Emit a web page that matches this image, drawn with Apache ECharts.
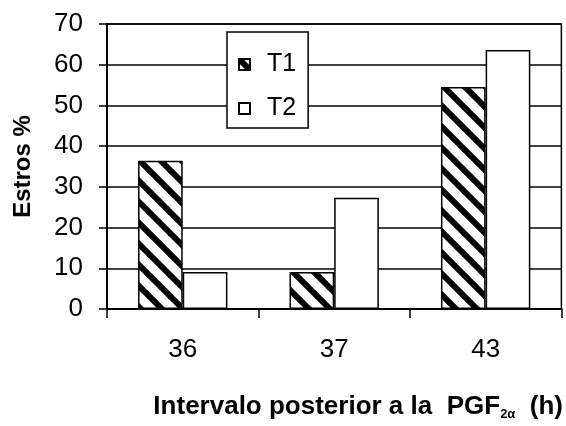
<!DOCTYPE html>
<html><head><meta charset="utf-8">
<script src="https://cdn.jsdelivr.net/npm/echarts@6/dist/echarts.min.js"></script>
<style>html,body{margin:0;padding:0;background:#fff}#c{width:566px;height:426px}</style>
</head><body><div id="c"></div>
<script>
const categories = ['36', '37', '43'];
const t1Values = [36.4, 9.1, 54.5];
const t2Values = [9.1, 27.3, 63.6];
const seriesNames = ['T1', 'T2'];
const yAxisName = 'Estros %';

function stripePattern() {
  const s = 21;
  const c = document.createElement('canvas');
  c.width = s; c.height = s;
  const g = c.getContext('2d');
  g.fillStyle = '#fff';
  g.fillRect(0, 0, s, s);
  g.strokeStyle = '#000';
  g.lineWidth = 6;
  for (let k = -1; k <= 1; k++) {
    g.beginPath();
    g.moveTo(k * s - 5, -5);
    g.lineTo(k * s + s + 5, s + 5);
    g.stroke();
  }
  return c;
}

const font = '"Liberation Sans", Arial, sans-serif';
const chart = echarts.init(document.getElementById('c'), null, { renderer: 'canvas' });
chart.setOption({
  animation: false,
  backgroundColor: '#fff',
  textStyle: { fontFamily: font, color: '#000' },
  grid: { left: 107, right: 1, top: 24, bottom: 110, show: true, borderColor: '#000', borderWidth: 1.5, backgroundColor: 'transparent' },
  legend: {
    orient: 'vertical', left: 227, top: 32,
    padding: [20, 12, 7, 11],
    itemGap: 19, itemWidth: 11, itemHeight: 11,
    backgroundColor: '#fff', borderColor: '#000', borderWidth: 1.5, borderRadius: 0,
    textStyle: { fontSize: 25, fontFamily: font, color: '#000', padding: [0, 0, 0, 12] },
    data: seriesNames.map(n => ({ name: n, icon: 'rect' }))
  },
  xAxis: {
    type: 'category', data: categories,
    axisLine: { lineStyle: { color: '#000', width: 2 } },
    axisTick: { show: true, length: 9, lineStyle: { color: '#000', width: 1.5 } },
    axisLabel: { fontSize: 26, color: '#000', margin: 28, fontFamily: font },
    name: '{m|Intervalo posterior a la  PGF}{s|2α}{m|  (h)}',
    nameLocation: 'middle', nameGap: 84,
    nameTextStyle: {
      padding: [0, 0, 0, 48],
      rich: {
        m: { fontSize: 26, fontWeight: 'bold', color: '#000', fontFamily: font, lineHeight: 28 },
        s: { fontSize: 13, fontWeight: 'bold', color: '#000', fontFamily: font, verticalAlign: 'bottom', lineHeight: 28, padding: [14, 0, 0, 0] }
      }
    }
  },
  yAxis: {
    type: 'value', min: 0, max: 70, interval: 10,
    axisLine: { show: true, lineStyle: { color: '#000', width: 2 } },
    axisTick: { show: true, length: 8, lineStyle: { color: '#000', width: 1.5 } },
    axisLabel: { fontSize: 26, color: '#000', margin: 24, fontFamily: font },
    splitLine: { show: true, lineStyle: { color: '#000', width: 1.5 } },
    name: yAxisName, nameLocation: 'middle', nameGap: 72, nameRotate: 90,
    nameTextStyle: { fontSize: 24, fontWeight: 'bold', color: '#000', fontFamily: font }
  },
  series: [
    { name: seriesNames[0], type: 'bar', data: t1Values, barGap: '0%', barCategoryGap: '41%',
      itemStyle: { color: { image: stripePattern(), repeat: 'repeat' }, borderColor: '#000', borderWidth: 1.5 } },
    { name: seriesNames[1], type: 'bar', data: t2Values, barGap: '0%', barCategoryGap: '41%',
      itemStyle: { color: '#fff', borderColor: '#000', borderWidth: 1.5 } }
  ]
});
</script></body></html>
